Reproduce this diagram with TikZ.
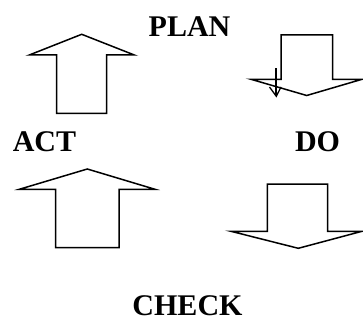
\documentclass[tikz,border=0pt]{standalone}
\usepackage{fontspec}
\setmainfont{Liberation Serif}
\begin{document}
\begin{tikzpicture}[x=1pt,y=-1pt,
  lbl/.style={font=\fontsize{30}{30}\selectfont\bfseries, inner sep=0pt, anchor=base},
  blockarrow/.style={draw=black, line width=1.5pt, line join=miter, fill=white}]
\useasboundingbox (0,0) rectangle (363,320);
% ACT -> PLAN (up)
\draw[blockarrow] (56.7,113.3) -- (56.7,55) -- (29.3,55) -- (81.7,34.3) -- (134.3,55) -- (106.7,55) -- (106.7,113.3) -- cycle;
% PLAN -> DO (down)
\draw[blockarrow] (281,35) -- (281,79.3) -- (251,79.3) -- (306.7,95.5) -- (362,79.3) -- (332.7,79.3) -- (332.7,35) -- cycle;
% small stray arrow
\draw[line width=1.3pt] (276,68.5) -- (276,96);
\draw[line width=1.3pt, line join=miter] (269.5,87) -- (276.3,96.3) -- (281,87);
% CHECK -> ACT (up)
\draw[blockarrow] (55.7,247.7) -- (55.7,189.3) -- (19.3,189.3) -- (87.3,169) -- (155,189.3) -- (119,189.3) -- (119,247.7) -- cycle;
% DO -> CHECK (down)
\draw[blockarrow] (267.3,184) -- (267.3,231.3) -- (231,231.3) -- (298.3,248.3) -- (362,231.3) -- (327.7,231.3) -- (327.7,184) -- cycle;
% labels
\node[lbl] (plan) at (189.5,36.7) {PLAN};
\node[lbl] (act) at (44.5,151.5) {ACT};
\node[lbl] (do) at (317.5,151.5) {DO};
\node[lbl] (check) at (187.5,315) {CHECK};
\end{tikzpicture}
\end{document}
